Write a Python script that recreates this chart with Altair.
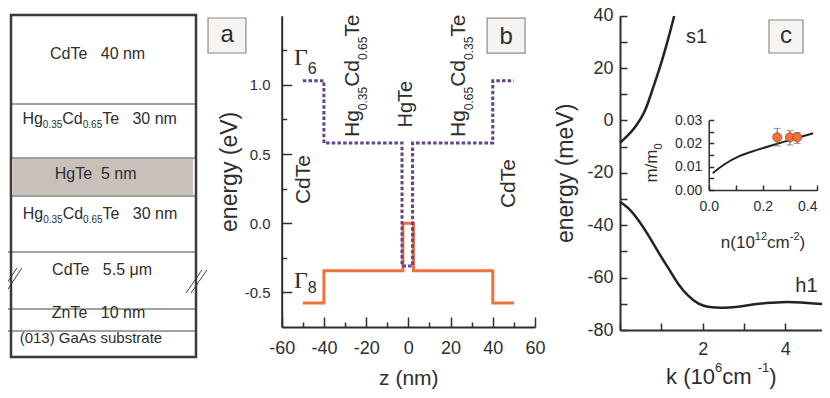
import altair as alt
import pandas as pd

W, H = 814, 382
SANS = "Liberation Sans, Arial, Helvetica, sans-serif"
SERIF = "Liberation Serif, Times New Roman, serif"
INK = "#2e2e2e"
ORANGE = "#f07040"
PURPLE = "#634489"

# ---------------- panel a : layer stack (schematic drawing thickness, top -> bottom)
stack_draw = [89, 54, 38, 56, 57, 22, 26]
line_start = [0, 0, 0, -0.016, -0.016, -0.016]
hgte_fill_x = [0.011, 0.984]
hgte_fill_y = [144, 180]
break_x0 = [-0.054, -0.027, 0.946, 0.973]
break_x1 = [0.032, 0.059, 1.032, 1.059]
break_y0 = [277, 277, 278, 278]
break_y1 = [253, 253, 255, 255]

# ---------------- panel b : band edges
g6_z = [-50, -40, -40, -3.0, -3.0, 2.0, 2.0, 40, 40, 50]
g6_e = [1.03, 1.03, 0.58, 0.58, -0.31, -0.31, 0.58, 0.58, 1.03, 1.03]
g8_z = [-50, -40, -40, -2.6, -2.6, 2.4, 2.4, 40, 40, 50]
g8_e = [-0.577, -0.577, -0.344, -0.344, 0.0, 0.0, -0.344, -0.344, -0.577, -0.577]

# ---------------- panel c : dispersion
s1_k = [0, 0.16, 0.37, 0.61, 0.81, 1.02, 1.18, 1.31]
s1_e = [-8.5, -6.2, -2.4, 4.0, 12.9, 23.1, 32.0, 39.9]
h1_k = [0, 0.2, 0.44, 0.68, 0.92, 1.17, 1.41, 1.65, 1.89, 2.13, 2.45, 2.85, 3.25, 3.66, 4.06, 4.46, 4.94, 5.0]
h1_e = [-31.0, -33.5, -38.0, -43.7, -50.1, -56.4, -62.4, -66.9, -69.8, -71.1, -71.5, -71.1, -70.2,
        -69.6, -69.3, -69.6, -70.2, -70.3]

# ---------------- inset : effective mass
mass_n = [0.015, 0.054, 0.115, 0.177, 0.238, 0.30, 0.386]
mass_m = [0.0072, 0.0107, 0.0146, 0.0171, 0.0193, 0.0214, 0.0243]
exp_n = [0.253, 0.30, 0.327]
exp_m = [0.0226, 0.0226, 0.0226]
exp_lo = [0.0189, 0.0193, 0.0200]
exp_hi = [0.0264, 0.0254, 0.0246]

# ---------------- scales (panel placement)
def sc(domain, rng):
    return alt.Scale(domain=domain, range=rng, nice=False, zero=False)

A_X, A_Y = sc([0, 1], [3, 188]), sc([0, 342], [7, 349])
B_X, B_Y = sc([-60, 60], [273.7, 527]), sc([-0.75, 1.5], [319, 7.7])
C_X, C_Y = sc([0, 5], [612, 818.7]), sc([-80, 40], [322, 7.7])
I_X, I_Y = sc([0, 0.4], [700.7, 809]), sc([0, 0.03], [182, 112])

# ---------------- text helpers
AW = {' ': .278, '\u00a0': .278, '(': .333, ')': .333, '-': .333, '.': .278, '/': .278,
      'A': .667, 'C': .722, 'G': .778, 'H': .722, 'T': .611, 'Z': .611, 'V': .667,
      'a': .556, 'b': .556, 'c': .5, 'd': .556, 'e': .556, 'g': .556, 'h': .556, 'i': .222,
      'k': .5, 'm': .833, 'n': .556, 'o': .556, 'r': .333, 's': .5, 't': .278, 'u': .556,
      'y': .5, 'l': .222, '\u03bc': .576, '\u0393': .578}


def tw(t, s):
    return sum(AW.get(ch, .556) for ch in t) * s


def P(t, s, sh=0, f=SANS):
    return (t, s, sh, f)


def rich(x, y, pieces, angle=0, anchor="middle", color=INK):
    widths = [tw(p[0], p[1]) for p in pieces]
    cur = -sum(widths) / 2 if anchor == "middle" else 0.0
    rows = []
    for (t, s, sh, f), w in zip(pieces, widths):
        rows.append({"x": x, "y": y, "t": t, "s": s, "dx": round(cur, 2), "dy": sh,
                     "a": angle, "f": f, "c": color})
        cur += w
    return rows


def texts(rows, X, Y):
    return alt.Chart(pd.DataFrame(rows)).mark_text(
        align="left", baseline="alphabetic",
        dx={"expr": "datum.dx"}, dy={"expr": "datum.dy"},
        angle={"expr": "datum.a"}, fontSize={"expr": "datum.s"},
        font={"expr": "datum.f"}, fill={"expr": "datum.c"},
    ).encode(x=alt.X("x:Q", scale=X, axis=None), y=alt.Y("y:Q", scale=Y, axis=None), text="t:N")


def ax(orient, offset, values, tick, pad, size, expr=None, labels=True, domain=True,
       title=None, tsize=20, tpad=5, dwidth=2, label_align=None):
    kw = dict(orient=orient, offset=offset, values=values, tickSize={"expr": str(-tick)},
              tickColor=INK, tickWidth=1.5, grid=False, domain=domain, domainColor=INK,
              domainWidth=dwidth, labels=labels, labelFont=SANS, labelFontSize=size,
              labelColor=INK, labelPadding=pad + tick, labelFlush=False, labelOverlap=False,
              title=title, titleFont=SANS, titleFontSize=tsize, titleFontWeight="normal",
              titleColor=INK, titlePadding=tpad)
    if expr:
        kw["labelExpr"] = expr
    if label_align:
        kw["labelAlign"] = label_align
    return alt.Axis(**kw)


def box(x0, x1, y0, y1, X, Y):
    return alt.Chart(pd.DataFrame({"x0": [x0], "x1": [x1], "y0": [y0], "y1": [y1]})).mark_rect(
        fill="#f6f4f1", stroke="#8a8a8a", strokeWidth=1.2
    ).encode(x=alt.X("x0:Q", scale=X, axis=None), x2="x1:Q",
             y=alt.Y("y0:Q", scale=Y, axis=None), y2="y1:Q")


layers = []

# ================= panel a =================
bounds = [0]
for d in stack_draw:
    bounds.append(bounds[-1] + d)
iface = pd.DataFrame({"y": bounds[1:-1], "x0": line_start, "x1": [1.005] * len(line_start)})
layers.append(alt.Chart(pd.DataFrame({"x0": [hgte_fill_x[0]], "x1": [hgte_fill_x[1]],
                                      "y0": [hgte_fill_y[0]], "y1": [hgte_fill_y[1]]}))
              .mark_rect(fill="#c9c0ba").encode(
                  x=alt.X("x0:Q", scale=A_X, axis=None), x2="x1:Q",
                  y=alt.Y("y0:Q", scale=A_Y, axis=None), y2="y1:Q"))
layers.append(alt.Chart(iface).mark_rule(color="#444", strokeWidth=1).encode(
    x=alt.X("x0:Q", scale=A_X, axis=None), x2="x1:Q", y=alt.Y("y:Q", scale=A_Y, axis=None)))
layers.append(alt.Chart(pd.DataFrame({"x0": break_x0, "x1": break_x1, "y0": break_y0, "y1": break_y1}))
              .mark_rule(color="#444", strokeWidth=1).encode(
                  x=alt.X("x0:Q", scale=A_X, axis=None), x2="x1:Q",
                  y=alt.Y("y0:Q", scale=A_Y, axis=None), y2="y1:Q"))
layers.append(alt.Chart(pd.DataFrame({"x0": [0], "x1": [1], "y0": [0], "y1": [bounds[-1]]}))
              .mark_rect(fill="white", fillOpacity=0, stroke="#3a3a3a", strokeWidth=2.5).encode(
                  x=alt.X("x0:Q", scale=A_X, axis=None), x2="x1:Q",
                  y=alt.Y("y0:Q", scale=A_Y, axis=None), y2="y1:Q"))
layers.append(box(1.065, 1.27, 3, 38, A_X, A_Y))

nb = "\u00a0"
hgcd = [P("Hg", 16), P("0.35", 10, 4), P("Cd", 16), P("0.65", 10, 4), P("Te" + nb * 3 + "30" + nb + "nm", 16)]
rows_a = []
rows_a += rich(0.473, 43.7, [P("CdTe" + nb * 3 + "40" + nb + "nm", 16)])
rows_a += rich(0.484, 109, hgcd)
rows_a += rich(0.462, 163.7, [P("HgTe" + nb * 2 + "5" + nb + "nm", 16)])
rows_a += rich(0.486, 203.5, hgcd)
rows_a += rich(0.497, 259.7, [P("CdTe" + nb * 3 + "5.5" + nb + "\u03bcm", 16)])
rows_a += rich(0.478, 302.7, [P("ZnTe" + nb * 3 + "10" + nb + "nm", 16)])
rows_a += rich(0.432, 328.4, [P("(013) GaAs substrate", 15)])
rows_a += rich(1.168, 26.7, [P("a", 24)])
layers.append(texts(rows_a, A_X, A_Y))

# ================= panel b =================
df8 = pd.DataFrame({"z": g8_z, "e": g8_e, "i": range(len(g8_z))})
df6 = pd.DataFrame({"z": g6_z, "e": g6_e, "i": range(len(g6_z))})
lab_b_x = "(datum.value < 0 ? '-' : '') + format(abs(datum.value), 'd')"
lab_b_y = "(datum.value < 0 ? '-' : '') + format(abs(datum.value), '.1f')"
layers.append(alt.Chart(df8).mark_line(color=ORANGE, strokeWidth=3).encode(
    x=alt.X("z:Q", scale=B_X, axis=ax("bottom", 319 - H, list(range(-60, 61, 20)), 10, 12, 18,
                                      expr=lab_b_x, title="z (nm)", tsize=21, tpad=10)),
    y=alt.Y("e:Q", scale=B_Y, axis=ax("left", -273.7, [-0.5, 0.0, 0.5, 1.0], 10, 11.7, 15,
                                      expr=lab_b_y, title="energy (eV)", tsize=23, tpad=3)),
    order="i:Q"))
layers.append(alt.Chart(df6).mark_line(color=PURPLE, strokeWidth=3, strokeDash=[3.5, 2.2]).encode(
    x=alt.X("z:Q", scale=B_X, axis=None), y=alt.Y("e:Q", scale=B_Y, axis=None), order="i:Q"))
# minor ticks of panel b
layers.append(alt.Chart(pd.DataFrame({"z": [0], "e": [0]})).mark_point(opacity=0).encode(
    x=alt.X("z:Q", scale=B_X, axis=ax("bottom", 319 - H, list(range(-50, 51, 20)), 5, 0, 10,
                                      labels=False, domain=False)),
    y=alt.Y("e:Q", scale=B_Y, axis=ax("left", -273.7, [-0.25, 0.25, 0.75, 1.25], 5, 0, 10,
                                      labels=False, domain=False))))
layers.append(box(37.3, 55.3, 1.483, 1.230, B_X, B_Y))

hg_l = [P("Hg", 21), P("0.35", 12, 8), P("Cd", 21), P("0.65", 12, 8), P("Te", 21)]
hg_r = [P("Hg", 21), P("0.65", 12, 8), P("Cd", 21), P("0.35", 12, 8), P("Te", 21)]
rows_b = []
rows_b += rich(-54.2, 1.144, [P("\u0393", 24, 0, SERIF), P("6", 16, 9)], anchor="start")
rows_b += rich(-54.2, -0.467, [P("\u0393", 24, 0, SERIF), P("8", 16, 5)], anchor="start")
rows_b += rich(-46.6, 0.324, [P("CdTe", 21)], angle=270)
rows_b += rich(50.5, 0.295, [P("CdTe", 21)], angle=270)
rows_b += rich(1.75, 0.869, [P("HgTe", 20)], angle=270)
rows_b += rich(-23.4, 0.623, hg_l, angle=270, anchor="start")
rows_b += rich(26.9, 0.623, hg_r, angle=270, anchor="start")
rows_b += rich(46.3, 1.293, [P("b", 24)])
layers.append(texts(rows_b, B_X, B_Y))

# ================= panel c =================
lab_c_y = "datum.value % 20 === 0 ? (datum.value < 0 ? '-' : '') + format(abs(datum.value), 'd') : ''"
lab_c_x = "datum.value === 2 || datum.value === 4 ? format(datum.value, 'd') : ''"
layers.append(alt.Chart(pd.DataFrame({"k": h1_k, "e": h1_e})).mark_line(
    color="#222", strokeWidth=2.5, interpolate="monotone").encode(
    x=alt.X("k:Q", scale=C_X, axis=ax("bottom", 322 - H, [0, 1, 2, 3, 4, 5], 7, 10, 18, expr=lab_c_x)),
    y=alt.Y("e:Q", scale=C_Y, axis=ax("left", -612, list(range(-80, 41, 10)), 7, 7, 18,
                                      expr=lab_c_y, title="energy (meV)", tsize=23, tpad=9))))
layers.append(alt.Chart(pd.DataFrame({"k": s1_k, "e": s1_e})).mark_line(
    color="#222", strokeWidth=2.5, interpolate="monotone").encode(
    x=alt.X("k:Q", scale=C_X, axis=None), y=alt.Y("e:Q", scale=C_Y, axis=None)))
layers.append(box(3.604, 4.427, 38.36, 25.76, C_X, C_Y))
rows_c = []
rows_c += rich(1.85, 29.5, [P("s1", 20)])
rows_c += rich(4.51, -65.4, [P("h1", 20)])
rows_c += rich(4.015, 29.7, [P("c", 24)])
rows_c += rich(2.45, -100.6, [P("k" + nb + "(10", 22), P("6", 13, -12), P(nb + "cm", 22),
                              P("-1", 13, -12), P(")", 22)])
layers.append(texts(rows_c, C_X, C_Y))

# ================= inset =================
lab_i_y = "abs(datum.value * 100 - round(datum.value * 100)) < 0.001 ? format(datum.value, '.2f') : ''"
lab_i_x = "abs(datum.value * 5 - round(datum.value * 5)) < 0.001 ? format(datum.value, '.1f') : ''"
inset_align = {"condition": {"test": "datum.value > 0.35", "value": "right"}, "value": "center"}
layers.append(alt.Chart(pd.DataFrame({"n": mass_n, "m": mass_m})).mark_line(
    color="#222", strokeWidth=2, interpolate="monotone").encode(
    x=alt.X("n:Q", scale=I_X, axis=ax("bottom", 182 - H, [0, 0.1, 0.2, 0.3, 0.4], 5, 9, 14,
                                      expr=lab_i_x, dwidth=1.5, label_align=inset_align)),
    y=alt.Y("m:Q", scale=I_Y, axis=ax("left", -700.7, [0, 0.005, 0.01, 0.015, 0.02, 0.025, 0.03],
                                      5, 7, 14, expr=lab_i_y, dwidth=1.5))))
dfe = pd.DataFrame({"n": exp_n, "m": exp_m, "lo": exp_lo, "hi": exp_hi})
layers.append(alt.Chart(dfe).mark_rule(color="#666", strokeWidth=1).encode(
    x=alt.X("n:Q", scale=I_X, axis=None), y=alt.Y("lo:Q", scale=I_Y, axis=None), y2="hi:Q"))
layers.append(alt.Chart(dfe).mark_tick(color="#666", orient="horizontal", size=7, thickness=1).encode(
    x=alt.X("n:Q", scale=I_X, axis=None), y=alt.Y("lo:Q", scale=I_Y, axis=None)))
layers.append(alt.Chart(dfe).mark_tick(color="#666", orient="horizontal", size=7, thickness=1).encode(
    x=alt.X("n:Q", scale=I_X, axis=None), y=alt.Y("hi:Q", scale=I_Y, axis=None)))
layers.append(alt.Chart(dfe).mark_circle(size=85, color=ORANGE, opacity=1, stroke="#8a3a18",
                                         strokeWidth=0.6).encode(
    x=alt.X("n:Q", scale=I_X, axis=None), y=alt.Y("m:Q", scale=I_Y, axis=None)))
rows_i = []
rows_i += rich(0.2006, -0.025, [P("n(10", 17), P("12", 11, -8), P("cm", 17), P("-2", 11, -8), P(")", 17)])
rows_i += rich(-0.191, 0.01157, [P("m/m", 17), P("0", 11, 5)], angle=270)
layers.append(texts(rows_i, I_X, I_Y))

chart = alt.layer(*layers).resolve_scale(x="independent", y="independent").resolve_axis(
    x="independent", y="independent").properties(
    width=W, height=H, padding=0, autosize=alt.AutoSizeParams(type="none"),
    background="white").configure_view(stroke=None)

chart.save("out.html", embed_options={"renderer": "svg", "actions": False})
